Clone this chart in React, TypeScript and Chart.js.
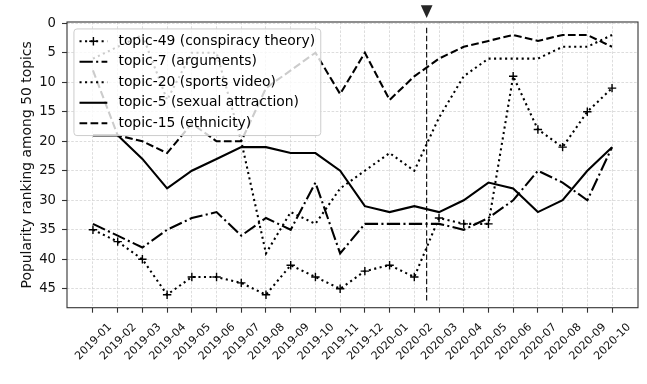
import { useEffect, useRef } from 'react';
import { Chart, registerables } from 'chart.js';

Chart.register(...registerables);

// ---------- data ----------
const MONTHS = [
  '2019-01', '2019-02', '2019-03', '2019-04', '2019-05', '2019-06', '2019-07', '2019-08',
  '2019-09', '2019-10', '2019-11', '2019-12', '2020-01', '2020-02', '2020-03', '2020-04',
  '2020-05', '2020-06', '2020-07', '2020-08', '2020-09', '2020-10',
];
const TOPIC_49 = [35, 37, 40, 46, 43, 43, 44, 46, 41, 43, 45, 42, 41, 43, 33, 34, 34, 9, 18, 21, 15, 11];
const TOPIC_7 = [34, 36, 38, 35, 33, 32, 36, 33, 35, 27, 39, 34, 34, 34, 34, 35, 33, 30, 25, 27, 30, 21];
const TOPIC_20 = [6, 4, 2, 13, 5, 5, 20, 39, 32, 34, 28, 25, 22, 25, 16, 9, 6, 6, 6, 4, 4, 2];
const TOPIC_5 = [19, 19, 23, 28, 25, 23, 21, 21, 22, 22, 25, 31, 32, 31, 32, 30, 27, 28, 32, 30, 25, 21];
const TOPIC_15 = [8, 19, 20, 22, 17, 20, 20, 11, 8, 5, 12, 5, 13, 9, 6, 4, 3, 2, 3, 2, 2, 4];

const LABELS = [
  'topic-49 (conspiracy theory)',
  'topic-7 (arguments)',
  'topic-20 (sports video)',
  'topic-5 (sexual attraction)',
  'topic-15 (ethnicity)',
];
const Y_TICKS = [0, 5, 10, 15, 20, 25, 30, 35, 40, 45];
const Y_TITLE = 'Popularity ranking among 50 topics';
const Y_MIN = -0.2;
const Y_MAX = 48.2;
const X_MIN = -1.05;
const X_MAX = 22.05;
const MARKER_X = 13.5; // event marker between 2020-02 and 2020-03
const TRIANGLE_Y = -1.95;

// ---------- styles ----------
const FONT = '"DejaVu Sans", "Liberation Sans", sans-serif';
const FS = 13.9;
const FS_X = 11.1;
const FS_Y = 13.2;
const LW = 2.08;
const DOTTED = [2.08, 3.44];
const DASHED = [7.7, 3.33];
const DASHDOT = [13.3, 3.33, 2.08, 3.33];
const SOLID: number[] = [];
const STYLES = [DOTTED, DASHDOT, DOTTED, SOLID, DASHED];
const SERIES = [TOPIC_49, TOPIC_7, TOPIC_20, TOPIC_5, TOPIC_15];

const pts = (arr: number[]) => arr.map((v, i) => ({ x: i, y: v }));

function drawCross(ctx: CanvasRenderingContext2D, x: number, y: number, r: number) {
  ctx.save();
  ctx.setLineDash([]);
  ctx.lineWidth = 1.4;
  ctx.strokeStyle = '#000';
  ctx.beginPath();
  ctx.moveTo(x - r, y);
  ctx.lineTo(x + r, y);
  ctx.moveTo(x, y - r);
  ctx.lineTo(x, y + r);
  ctx.stroke();
  ctx.restore();
}

const decorPlugin = {
  id: 'decor',
  afterDatasetsDraw(chart: any) {
    const { ctx, chartArea: a, scales } = chart;
    ctx.save();
    // axes frame
    ctx.setLineDash([]);
    ctx.strokeStyle = '#333';
    ctx.lineWidth = 1.1;
    ctx.strokeRect(a.left, a.top, a.right - a.left, a.bottom - a.top);

    // triangle marker above the axes
    const tx = scales.x.getPixelForValue(MARKER_X);
    const ty = scales.y.getPixelForValue(TRIANGLE_Y);
    const h = 6.3;
    ctx.fillStyle = '#262626';
    ctx.beginPath();
    ctx.moveTo(tx - h * 0.93, ty - h);
    ctx.lineTo(tx + h * 0.93, ty - h);
    ctx.lineTo(tx, ty + h);
    ctx.closePath();
    ctx.fill();

    // legend
    ctx.font = `${FS}px ${FONT}`;
    const pad = 0.4 * FS;
    const handleLen = 2 * FS;
    const textPad = 0.8 * FS;
    const rowStep = 20.5;
    const bx = a.left + 0.5 * FS;
    const by = a.top + 0.5 * FS;
    const maxW = Math.max(...LABELS.map((l) => ctx.measureText(l).width));
    const bw = pad + handleLen + textPad + maxW + pad;
    const bh = 2 * pad + 4 * rowStep + 13.5;
    ctx.beginPath();
    const r = 3;
    ctx.moveTo(bx + r, by);
    ctx.lineTo(bx + bw - r, by);
    ctx.arcTo(bx + bw, by, bx + bw, by + r, r);
    ctx.lineTo(bx + bw, by + bh - r);
    ctx.arcTo(bx + bw, by + bh, bx + bw - r, by + bh, r);
    ctx.lineTo(bx + r, by + bh);
    ctx.arcTo(bx, by + bh, bx, by + bh - r, r);
    ctx.lineTo(bx, by + r);
    ctx.arcTo(bx, by, bx + r, by, r);
    ctx.closePath();
    ctx.fillStyle = 'rgba(255,255,255,0.8)';
    ctx.fill();
    ctx.strokeStyle = '#cccccc';
    ctx.lineWidth = 1;
    ctx.stroke();

    LABELS.forEach((label, i) => {
      const cy = by + pad + 6.75 + i * rowStep;
      const hx0 = bx + pad;
      const hx1 = hx0 + handleLen;
      ctx.save();
      ctx.setLineDash(STYLES[i]);
      ctx.lineWidth = LW;
      ctx.strokeStyle = '#000';
      ctx.lineCap = 'butt';
      ctx.beginPath();
      ctx.moveTo(hx0, cy);
      ctx.lineTo(hx1, cy);
      ctx.stroke();
      ctx.restore();
      if (i === 0) drawCross(ctx, (hx0 + hx1) / 2, cy, 4.2);
      ctx.fillStyle = '#000';
      ctx.textAlign = 'left';
      ctx.textBaseline = 'middle';
      ctx.fillText(label, hx1 + textPad, cy);
    });
    ctx.restore();
  },
};

export default function App() {
  const ref = useRef<HTMLCanvasElement>(null);

  useEffect(() => {
    const canvas = ref.current;
    if (!canvas) return;
    const span = Y_MAX - Y_MIN;
    const vline = [Y_MIN + 0.02 * span, Y_MIN + 0.98 * span];

    const datasets: any[] = SERIES.map((s, i) => ({
      label: LABELS[i],
      data: pts(s),
      borderColor: '#000',
      backgroundColor: '#000',
      borderWidth: LW,
      borderDash: STYLES[i],
      borderCapStyle: 'butt',
      tension: 0,
      fill: false,
      pointRadius: i === 0 ? 4.2 : 0,
      pointStyle: 'cross',
      pointBorderColor: '#000',
      pointBorderWidth: 1.4,
      pointHoverRadius: i === 0 ? 4.2 : 0,
    }));
    datasets.push({
      label: 'event',
      data: [
        { x: MARKER_X, y: vline[0] },
        { x: MARKER_X, y: vline[1] },
      ],
      borderColor: '#000',
      borderWidth: 1.1,
      borderDash: [5.5, 2.6],
      pointRadius: 0,
      fill: false,
    });

    const gridCommon = {
      color: '#d4d4d4',
      lineWidth: 0.8,
      tickLength: 5,
      tickColor: '#333',
      tickWidth: 1.1,
      drawTicks: true,
    };

    const chart = new Chart(canvas, {
      type: 'line',
      data: { datasets },
      options: {
        animation: false,
        responsive: false,
        devicePixelRatio: 1,
        events: [],
        layout: { padding: { left: 0, right: 9, top: 22, bottom: 0 } },
        plugins: { legend: { display: false }, tooltip: { enabled: false } },
        scales: {
          x: {
            type: 'linear',
            min: X_MIN,
            max: X_MAX,
            afterFit: (s: any) => {
              s.height = 76.3;
            },
            afterBuildTicks: (s: any) => {
              s.ticks = MONTHS.map((_, i) => ({ value: i }));
            },
            ticks: {
              autoSkip: false,
              minRotation: 45,
              maxRotation: 45,
              labelOffset: 17,
              padding: 8,
              color: '#111',
              font: { family: FONT, size: FS_X },
              callback: (v: any) => MONTHS[v as number],
            },
            grid: gridCommon,
            border: { display: false, dash: [2.6, 1.6] },
          },
          y: {
            type: 'linear',
            reverse: true,
            min: Y_MIN,
            max: Y_MAX,
            afterFit: (s: any) => {
              s.width = 67;
            },
            afterBuildTicks: (s: any) => {
              s.ticks = Y_TICKS.map((v) => ({ value: v }));
            },
            ticks: {
              padding: 6,
              color: '#111',
              font: { family: FONT, size: FS_Y },
              callback: (v: any) => String(v),
            },
            title: {
              display: true,
              text: Y_TITLE,
              color: '#111',
              font: { family: FONT, size: FS },
              padding: { top: 18.7, bottom: 0 },
            },
            grid: gridCommon,
            border: { display: false, dash: [2.6, 1.6] },
          },
        },
      } as any,
      plugins: [decorPlugin],
    });
    return () => chart.destroy();
  }, []);

  return (
    <div style={{ position: 'absolute', left: 0, top: 0, width: 647, height: 384, background: '#fff' }}>
      <canvas ref={ref} width={647} height={384} style={{ display: 'block', width: 647, height: 384 }} />
    </div>
  );
}
